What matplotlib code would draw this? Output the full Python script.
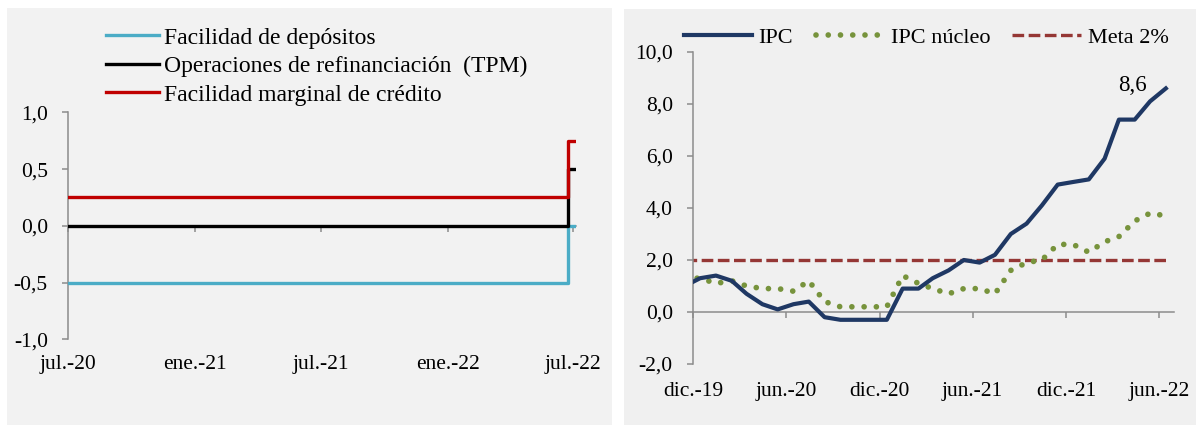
import numpy as np
import pandas as pd
import matplotlib
matplotlib.use("Agg")
import matplotlib.pyplot as plt
from matplotlib.patches import Rectangle
from matplotlib.ticker import FuncFormatter

plt.rcParams['font.family'] = ['Liberation Serif', 'DejaVu Serif']

# ---------------- left panel: ECB rates (daily steps) ----------------
fechas_tasas = pd.to_datetime(['2020-07-01', '2022-06-23', '2022-07-05'])
facilidad_depositos = [-0.50, 0.00, 0.00]
tpm = [0.00, 0.50, 0.50]
facilidad_marginal = [0.25, 0.75, 0.75]

ticks_izq = pd.to_datetime(['2020-07-01', '2021-01-01', '2021-07-01', '2022-01-01', '2022-07-01'])
etiquetas_izq = ['jul.-20', 'ene.-21', 'jul.-21', 'ene.-22', 'jul.-22']

# ---------------- right panel: inflation (monthly, %) ----------------
meses = pd.date_range('2019-11-01', periods=32, freq='MS') + pd.Timedelta(days=14)
ipc = [1.0, 1.3, 1.4, 1.2, 0.7, 0.3, 0.1, 0.3, 0.4, -0.2, -0.3, -0.3, -0.3, -0.3,
       0.9, 0.9, 1.3, 1.6, 2.0, 1.9, 2.2, 3.0, 3.4, 4.1, 4.9, 5.0,
       5.1, 5.9, 7.4, 7.4, 8.1, 8.6]
ipc_nucleo = [1.3, 1.3, 1.1, 1.2, 1.0, 0.9, 0.9, 0.8, 1.2, 0.4, 0.2, 0.2, 0.2, 0.2,
              1.4, 1.1, 0.9, 0.7, 0.9, 0.9, 0.7, 1.6, 1.9, 2.0, 2.6, 2.6,
              2.3, 2.7, 2.9, 3.5, 3.8, 3.7]
meta = [2.0, 2.0, 2.0, 2.0, 2.0, 2.0, 2.0, 2.0, 2.0, 2.0, 2.0, 2.0, 2.0, 2.0, 2.0, 2.0,
        2.0, 2.0, 2.0, 2.0, 2.0, 2.0, 2.0, 2.0, 2.0, 2.0, 2.0, 2.0, 2.0, 2.0, 2.0, 2.0]

ticks_der = pd.to_datetime(['2019-12-01', '2020-06-01', '2020-12-01', '2021-06-01', '2021-12-01', '2022-06-01'])
etiquetas_der = ['dic.-19', 'jun.-20', 'dic.-20', 'jun.-21', 'dic.-21', 'jun.-22']

GRIS = '#8c8c8c'
FS = 15.5

fig = plt.figure(figsize=(11.96, 4.25), dpi=100)
W, H = 1196, 425

# panel backgrounds
fig.patches.append(Rectangle((7 / W, 0), (612 - 7) / W, 1 - 8 / H, transform=fig.transFigure,
                             facecolor='#f2f2f2', edgecolor='none', zorder=-10))
fig.patches.append(Rectangle((624 / W, 0), (1196 - 624) / W, 1 - 9 / H, transform=fig.transFigure,
                             facecolor='#f0f0f0', edgecolor='none', zorder=-10))

coma = FuncFormatter(lambda v, p: f"{v:.1f}".replace('.', ','))


def estilo(ax, ticks, etiquetas, dy):
    ax.set_facecolor('none')
    for s in ['top', 'right']:
        ax.spines[s].set_visible(False)
    ax.spines['left'].set_color(GRIS)
    ax.spines['left'].set_linewidth(1.1)
    ax.spines['bottom'].set_position(('data', 0))
    ax.spines['bottom'].set_color(GRIS)
    ax.spines['bottom'].set_linewidth(1.1)
    ax.yaxis.set_major_formatter(coma)
    ax.tick_params(axis='y', length=4.5, width=1.1, color=GRIS, pad=10, labelsize=FS)
    ax.set_xticks(ticks)
    ax.tick_params(axis='x', length=4.5, width=1.1, color=GRIS, labelbottom=False)
    for t, lab in zip(ticks, etiquetas):
        ax.annotate(lab, xy=(t, 0), xycoords=('data', 'axes fraction'),
                    xytext=(0, dy), textcoords='offset points',
                    ha='center', va='center', fontsize=FS)


# left axes
ax1 = fig.add_axes([68 / W, 1 - 339.3 / H, (576 - 68) / W, (339.3 - 112.3) / H])
ax1.plot(fechas_tasas, facilidad_depositos, drawstyle='steps-post', color='#4bacc6', lw=2.4,
         label='Facilidad de depósitos', zorder=3)
ax1.plot(fechas_tasas, tpm, drawstyle='steps-post', color='black', lw=2.4,
         label='Operaciones de refinanciación  (TPM)', zorder=3)
ax1.plot(fechas_tasas, facilidad_marginal, drawstyle='steps-post', color='#c00000', lw=2.4,
         label='Facilidad marginal de crédito', zorder=3)
ax1.set_xlim(fechas_tasas[0], fechas_tasas[-1])
ax1.set_ylim(-1.0, 1.0)
ax1.set_yticks([-1.0, -0.5, 0.0, 0.5, 1.0])
estilo(ax1, ticks_izq, etiquetas_izq, -18.5)
ax1.legend(loc='upper left', bbox_to_anchor=(105.8 / W, 1 - 27 / H), bbox_transform=fig.transFigure,
           frameon=False, fontsize=17, handlelength=2.25, handletextpad=0.2,
           labelspacing=0.3, borderpad=0, borderaxespad=0)

# right axes
ax2 = fig.add_axes([693 / W, 1 - 364 / H, (1174 - 693) / W, 312 / H])
ax2.plot(meses, meta, color='#953735', lw=2.4, linestyle=(0, (3.5, 1.35)),
         dash_capstyle='butt', label='Meta 2%', zorder=2)
ax2.plot(meses, ipc_nucleo, color='#77933c', lw=4.1, linestyle=(0, (0.001, 2.15)),
         dash_capstyle='round', label='IPC núcleo', zorder=3)
ax2.plot(meses, ipc, color='#1f3864', lw=3.0, label='IPC', zorder=4)
ax2.set_xlim(ticks_der[0], pd.Timestamp('2022-07-01'))
ax2.set_ylim(-2.0, 10.0)
ax2.set_yticks([-2.0, 0.0, 2.0, 4.0, 6.0, 8.0, 10.0])
estilo(ax2, ticks_der, etiquetas_der, -20)
ax2.annotate(f"{ipc[-1]:.1f}".replace('.', ','), xy=(meses[-1], ipc[-1]),
             xytext=(-24, 2), textcoords='offset points', ha='center', va='center', fontsize=16.5)
h, l = ax2.get_legend_handles_labels()
ax2.legend([h[2], h[1], h[0]], [l[2], l[1], l[0]], loc='upper left',
           bbox_to_anchor=(683.6 / W, 1 - 27 / H), bbox_transform=fig.transFigure,
           frameon=False, fontsize=16, ncol=3, handlelength=3.1, handletextpad=0.28,
           columnspacing=1.0, borderpad=0, borderaxespad=0)

fig.savefig('out.png', dpi=100)
